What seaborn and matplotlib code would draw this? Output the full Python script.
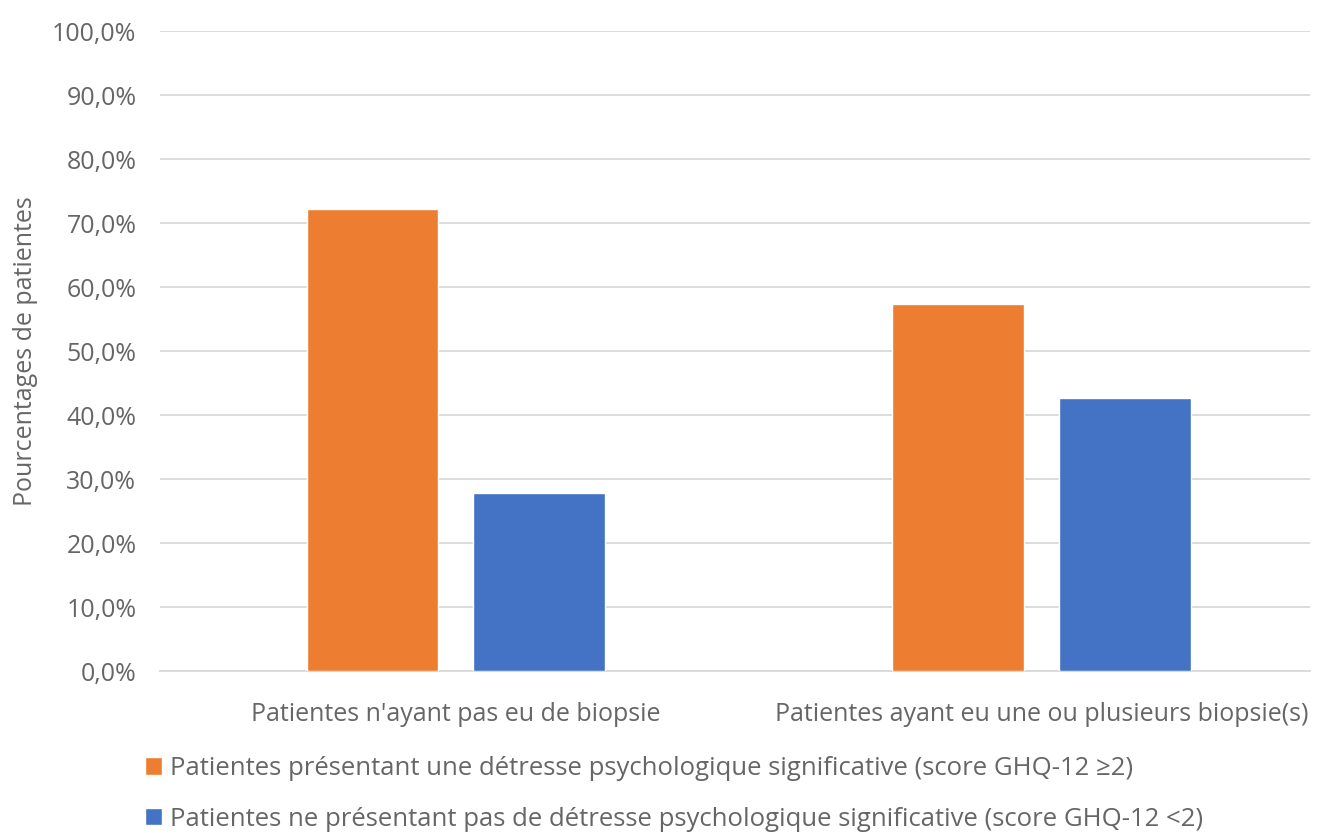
import pandas as pd
import matplotlib.pyplot as plt
import seaborn as sns
from matplotlib.ticker import FuncFormatter

# données
groupes = ["Patientes n'ayant pas eu de biopsie",
           "Patientes ayant eu une ou plusieurs biopsie(s)"]
series = ["Patientes présentant une détresse psychologique significative (score GHQ-12 ≥2)",
          "Patientes ne présentant pas de détresse psychologique significative (score GHQ-12 <2)"]
detresse = [72.2, 57.4]
pas_detresse = [27.8, 42.6]

df = pd.DataFrame({
    'Groupe': groupes * 2,
    'Serie': [series[0]] * 2 + [series[1]] * 2,
    'Pourcentage': detresse + pas_detresse,
})

sns.set_style('white')
plt.rcParams['font.family'] = ['Open Sans', 'DejaVu Sans']
gris = '#666666'

fig = plt.figure(figsize=(13.26, 8.33), dpi=100)
ax = fig.add_axes([160 / 1326, 1 - 671 / 833, 1150 / 1326, 640 / 833])

sns.barplot(data=df, x='Groupe', y='Pourcentage', hue='Serie', hue_order=series,
            palette=['#ED7D31', '#4472C4'], width=0.57, gap=0.21,
            saturation=1, ax=ax, zorder=3)

ax.set_ylim(0, 100)
ax.set_yticks(range(0, 101, 10))
ax.yaxis.set_major_formatter(FuncFormatter(lambda v, p: f"{v:.1f}%".replace('.', ',')))
ax.set_xlim(-0.5055, 1.4587)
ax.grid(axis='y', color='#d9d9d9', linewidth=1.3, zorder=0)
ax.set_axisbelow(True)
for s in ['top', 'right', 'left']:
    ax.spines[s].set_visible(False)
ax.spines['bottom'].set_color('#d9d9d9')
ax.spines['bottom'].set_linewidth(1.3)
ax.tick_params(axis='both', length=0, labelsize=18, labelcolor=gris)
ax.tick_params(axis='y', pad=17)
ax.tick_params(axis='x', pad=22)
ax.set_xlabel('')
ax.set_ylabel('Pourcentages de patientes', fontsize=18, color=gris, labelpad=10)

handles, labels = ax.get_legend_handles_labels()
ax.legend(handles, labels, loc='upper left', bbox_to_anchor=(145 / 1326, 1 - 756 / 833),
          bbox_transform=fig.transFigure, frameon=False, fontsize=18.5,
          labelcolor=gris, handlelength=0.66, handleheight=0.66, handletextpad=0.3,
          labelspacing=1.0, borderaxespad=0, borderpad=0)

plt.savefig('out.png', dpi=100)
